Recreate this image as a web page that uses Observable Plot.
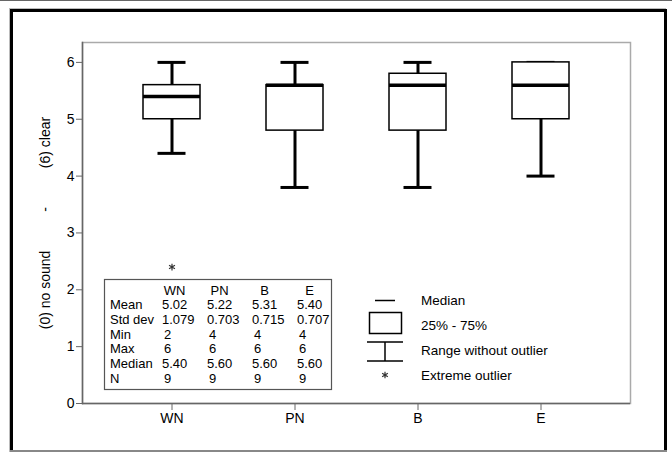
<!DOCTYPE html>
<html><head><meta charset="utf-8">
<script src="https://cdn.jsdelivr.net/npm/d3@7"></script>
<script src="https://cdn.jsdelivr.net/npm/@observablehq/plot@0.6"></script>
<style>
html,body{margin:0;padding:0;background:#fff;}
#wrap{position:relative;width:672px;height:452px;overflow:hidden;font-family:"Liberation Sans",Arial,sans-serif;}
#topline{position:absolute;left:0;top:0;width:672px;height:1px;background:#666;}
#border{position:absolute;left:10px;top:9px;width:657px;height:460px;border:3px solid #000;box-sizing:border-box;box-shadow:-1px -1px 0 #bbb;}
#botline{position:absolute;left:10px;top:450px;width:657px;height:2px;background:#888;}
#overlay{position:absolute;left:0;top:0;}
</style></head>
<body>
<div id="wrap"><div id="topline"></div><div id="chart"></div><div id="border"></div><div id="botline"></div></div>
<script>
// ---- data ----
const groups      = ["WN", "PN", "B", "E"];
const whiskerLow  = [4.4, 3.8, 3.8, 4.0];
const q1          = [5.0, 4.8, 4.8, 5.0];
const medians     = [5.4, 5.6, 5.6, 5.6];
const q3          = [5.6, 5.6, 5.8, 6.0];
const whiskerHigh = [6.0, 6.0, 6.0, 6.0];
const outlierGroups = ["WN"];
const outlierValues = [2.4];
const yTicks = [0, 1, 2, 3, 4, 5, 6];
const yLabelParts = ["(0) no sound", "-", "(6) clear"];

// summary table
const statRowLabels = ["Mean", "Std dev", "Min", "Max", "Median", "N"];
const statMean   = ["5.02", "5.22", "5.31", "5.40"];
const statStd    = ["1.079", "0.703", "0.715", "0.707"];
const statMin    = ["2", "4", "4", "4"];
const statMax    = ["6", "6", "6", "6"];
const statMedian = ["5.40", "5.60", "5.60", "5.60"];
const statN      = ["9", "9", "9", "9"];

// legend
const legendLabels = ["Median", "25% - 75%", "Range without outlier", "Extreme outlier"];

const boxes = groups.map((g, i) => ({g, lo: whiskerLow[i], q1: q1[i], med: medians[i], q3: q3[i], hi: whiskerHigh[i]}));
const outliers = outlierGroups.map((g, i) => ({g, v: outlierValues[i]}));
const font = '"Liberation Sans", Arial, sans-serif';
const gap = "\u00a0".repeat(10);

const chart = Plot.plot({
  width: 672, height: 452,
  marginLeft: 82, marginRight: 42, marginTop: 42, marginBottom: 49,
  style: {fontFamily: font, fontSize: "14px", background: "white", color: "black"},
  x: {type: "band", domain: groups, paddingInner: 0.54, paddingOuter: 0.48},
  y: {domain: [0, 6.35]},
  marks: [
    Plot.frame({stroke: "#aaa", strokeWidth: 1.5}),
    Plot.ruleY([0], {stroke: "#666", strokeWidth: 1.5}),
    Plot.frame({anchor: "left", stroke: "#666", strokeWidth: 1.5}),
    Plot.axisY({ticks: yTicks, tickFormat: d => String(d), tickSize: 6, tickPadding: 2, fontSize: 14, label: null, stroke: "#666"}),
    Plot.axisX({tickSize: 7, tickPadding: 3, fontSize: 14, label: null, stroke: "#666"}),
    Plot.text([yLabelParts.join(gap)], {frameAnchor: "left", textAnchor: "middle", rotate: -90, dx: -37, fontSize: 14}),
    Plot.ruleX(boxes, {x: "g", y1: "lo", y2: "hi", stroke: "black", strokeWidth: 3}),
    Plot.tickY(boxes, {x: "g", y: "lo", insetLeft: 14.5, insetRight: 14.5, stroke: "black", strokeWidth: 3}),
    Plot.tickY(boxes, {x: "g", y: "hi", insetLeft: 14.5, insetRight: 14.5, stroke: "black", strokeWidth: 3}),
    Plot.barY(boxes, {x: "g", y1: "q1", y2: "q3", fill: "white", stroke: "black", strokeWidth: 1.5}),
    Plot.tickY(boxes, {x: "g", y: "med", stroke: "black", strokeWidth: 3.5}),
    Plot.dot(outliers, {x: "g", y: "v", symbol: "asterisk", r: 3.2, stroke: "#333", strokeWidth: 1.2})
  ]
});
document.getElementById("chart").appendChild(chart);

// ---- overlay: summary table + legend ----
const svg = d3.select("#wrap").append("svg").attr("id", "overlay")
  .attr("width", 672).attr("height", 452)
  .style("font-family", font).style("pointer-events", "none");

// table
const tbl = svg.append("g");
tbl.append("rect").attr("x", 104.5).attr("y", 279.5).attr("width", 227).attr("height", 110)
  .attr("fill", "white").attr("stroke", "#555").attr("stroke-width", 1.2);
const colX = [162, 207, 252, 297];
const rowY0 = 290, rowStep = 14.65;
groups.forEach((g, j) => {
  tbl.append("text").attr("x", colX[j] + 12.5).attr("y", rowY0 + 4.7)
    .attr("text-anchor", "middle").attr("font-size", 13).text(g);
});
const statCols = [statMean, statStd, statMin, statMax, statMedian, statN];
statRowLabels.forEach((lab, r) => {
  const y = rowY0 + (r + 1) * rowStep + 4.7;
  tbl.append("text").attr("x", 110).attr("y", y).attr("font-size", 13).text(lab);
  statCols[r].forEach((v, j) => {
    tbl.append("text").attr("x", colX[j] + (v.length === 1 ? 2 : 0)).attr("y", y)
      .attr("font-size", 13).text(v);
  });
});

// legend
const lg = svg.append("g").attr("stroke", "black").attr("fill", "none").attr("stroke-width", 1.5);
lg.append("line").attr("x1", 375).attr("x2", 395).attr("y1", 300.5).attr("y2", 300.5);
lg.append("rect").attr("x", 369.5).attr("y", 312.5).attr("width", 32).attr("height", 21);
lg.append("line").attr("x1", 367).attr("x2", 403).attr("y1", 342).attr("y2", 342);
lg.append("line").attr("x1", 367).attr("x2", 403).attr("y1", 361).attr("y2", 361);
lg.append("line").attr("x1", 385).attr("x2", 385).attr("y1", 342).attr("y2", 361);
lg.append("path").attr("transform", "translate(385,375)")
  .attr("d", d3.symbol(d3.symbolAsterisk, 30)()).attr("stroke", "#333").attr("stroke-width", 1.2);
const legY = [300.5, 325, 350.5, 375.5];
legendLabels.forEach((t, i) => {
  svg.append("text").attr("x", 421).attr("y", legY[i] + 4.8).attr("font-size", 13.5).text(t);
});
</script>
</body></html>
